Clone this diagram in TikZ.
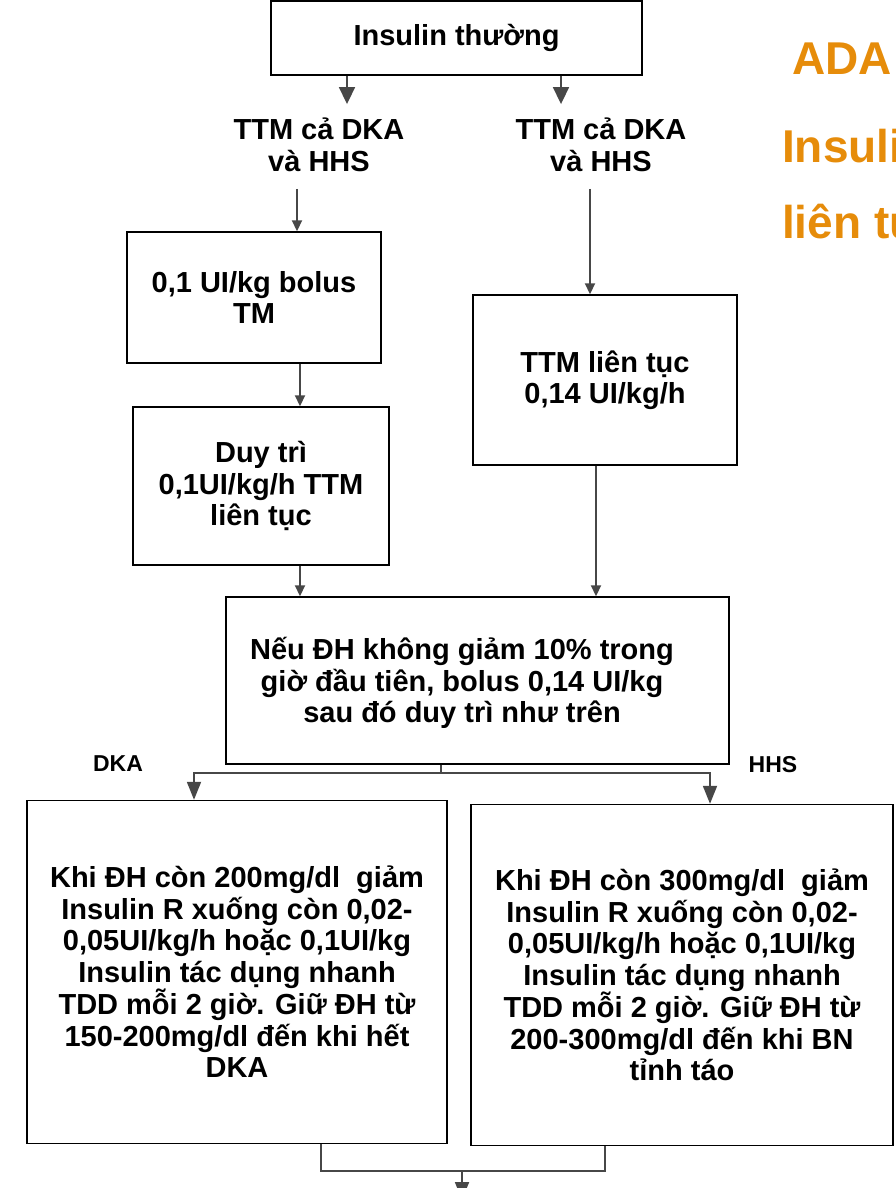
\documentclass[tikz,border=0pt]{standalone}
\usepackage{fontspec}
\setmainfont{Liberation Sans}
\usetikzlibrary{arrows.meta}
\definecolor{ora}{RGB}{230,140,10}
\begin{document}
\begin{tikzpicture}[x=1pt,y=-1pt,
  box/.style={draw=black, line width=1.4pt, fill=white, inner sep=0pt,
    font=\fontsize{29}{31.5}\selectfont\bfseries, align=center},
  txt/.style={font=\fontsize{29}{31.5}\selectfont\bfseries, align=center, inner sep=0pt},
  lbl/.style={font=\fontsize{23}{26}\selectfont\bfseries, inner sep=0pt},
  big/.style={font=\fontsize{46}{50}\selectfont\bfseries, text=ora, inner sep=0pt, anchor=base west},
  conn/.style={draw=black!72, line width=1.8pt},
  bigarr/.style={conn, -{Triangle[width=16pt,length=17pt]}},
  smallarr/.style={conn, -{Triangle[width=10pt,length=11pt]}},
  midarr/.style={conn, -{Triangle[width=14pt,length=18pt]}},
]
\useasboundingbox (0,0) rectangle (895,1188);
\clip (0,0) rectangle (895,1188);

% boxes
\node[box, minimum width=371pt, minimum height=74pt] (b0) at (456.5,38) {Insulin thường};
\node[box, minimum width=254pt, minimum height=131pt] (b1) at (254,297.5) {0,1 UI/kg bolus\\TM};
\node[box, minimum width=256pt, minimum height=158pt] (b2) at (261,486) {Duy trì\\0,1UI/kg/h TTM\\liên tục};
\node[box, minimum width=264pt, minimum height=170pt] (b3) at (605,380) {TTM liên tục\\0,14 UI/kg/h};
\node[box, minimum width=503pt, minimum height=167pt] (b4) at (477.5,680.5) {};
\node[txt] (t4) at (462,683) {Nếu ĐH không giảm 10\% trong\\giờ đầu tiên, bolus 0,14 UI/kg\\sau đó duy trì như trên};
\node[box, minimum width=420pt, minimum height=343pt] (b5) at (237,972) {Khi ĐH còn 200mg/dl\ \ giảm\\Insulin R xuống còn 0,02-\\0,05UI/kg/h hoặc 0,1UI/kg\\Insulin tác dụng nhanh\\TDD mỗi 2 giờ. Giữ ĐH từ\\150-200mg/dl đến khi hết\\DKA};
\node[box, minimum width=422pt, minimum height=341pt] (b6) at (682,975) {Khi ĐH còn 300mg/dl\ \ giảm\\Insulin R xuống còn 0,02-\\0,05UI/kg/h hoặc 0,1UI/kg\\Insulin tác dụng nhanh\\TDD mỗi 2 giờ. Giữ ĐH từ\\200-300mg/dl đến khi BN\\tỉnh táo};

% free texts
\node[txt] (t1) at (319,145) {TTM cả DKA\\và HHS};
\node[txt] (t2) at (601,145) {TTM cả DKA\\và HHS};
\node[lbl] (l1) at (118,764) {DKA};
\node[lbl] (l2) at (773,765) {HHS};
\node[big] (o1) at (792,75) {ADA};
\node[big] (o2) at (782,162) {Insuli};
\node[big] (o3) at (782,238) {liên tu};

% x positions of connectors
\coordinate (xa) at (347,0);
\coordinate (xb) at (561,0);
\coordinate (xc) at (297,0);
\coordinate (xd) at (590,0);
\coordinate (xe) at (300,0);
\coordinate (xf) at (596,0);
\coordinate (xh) at (194,0);
\coordinate (xi) at (710,0);
\coordinate (xj) at (321,0);
\coordinate (xk) at (605,0);
\coordinate (j1) at (441,773);
\coordinate (j2) at (462,1171);
\coordinate (e1) at (462,1200);

% connectors
\draw[bigarr, shorten >=14pt] (b0.south -| xa) -- (t1.north -| xa);
\draw[bigarr, shorten >=14pt] (b0.south -| xb) -- (t2.north -| xb);
\draw[smallarr, shorten <=17pt] (t1.south -| xc) -- (b1.north -| xc);
\draw[smallarr, shorten <=17pt] (t2.south -| xd) -- (b3.north -| xd);
\draw[smallarr] (b1.south -| xe) -- (b2.north -| xe);
\draw[smallarr] (b2.south -| xe) -- (b4.north -| xe);
\draw[smallarr] (b3.south -| xf) -- (b4.north -| xf);
\draw[conn] (b4.south -| j1) -- (j1);
\draw[midarr] (j1) -| (b5.north -| xh);
\draw[midarr] (j1) -| (b6.north -| xi);
\draw[conn] (b5.south -| xj) |- (j2) -| (b6.south -| xk);
\draw[midarr] (j2) -- (e1);
\end{tikzpicture}
\end{document}
